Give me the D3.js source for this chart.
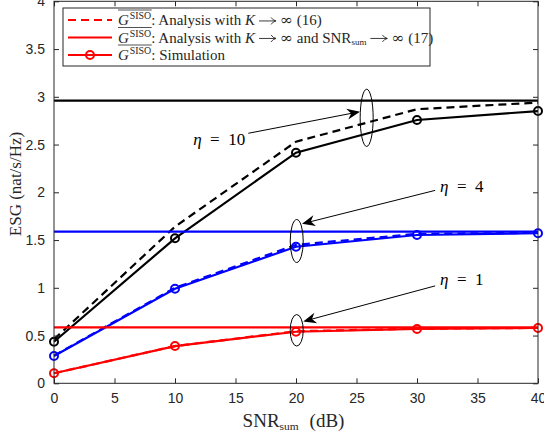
<!DOCTYPE html>
<html><head><meta charset="utf-8">
<script src="https://cdn.jsdelivr.net/npm/d3@7"></script>
<style>
html,body{margin:0;padding:0;background:#fff;overflow:hidden}
svg{display:block}
</style></head>
<body>
<script>
// ---- data ----
const snr = [0, 10, 20, 30, 40];
const xTicks = [0, 5, 10, 15, 20, 25, 30, 35, 40];
const yTicks = [0, 0.5, 1, 1.5, 2, 2.5, 3, 3.5, 4];
const yTickLabels = ["0", "0.5", "1", "1.5", "2", "2.5", "3", "3.5", "4"];
const etas = ["10", "4", "1"];
const colors = ["#000000", "#0000ff", "#ff0000"];
// analysis K->inf (dashed)
const dash10 = [0.46, 1.64, 2.53, 2.87, 2.94];
const dash4  = [0.29, 1.00, 1.45, 1.565, 1.575];
const dash1  = [0.105, 0.39, 0.545, 0.572, 0.58];
// analysis K->inf and SNR->inf (horizontal)
const lim10 = 2.96, lim4 = 1.588, lim1 = 0.586;
// simulation
const sim10 = [0.435, 1.518, 2.415, 2.757, 2.851];
const sim4  = [0.286, 0.99, 1.43, 1.553, 1.571];
const sim1  = [0.105, 0.39, 0.54, 0.569, 0.579];
// annotations (data coords)
const annEllipse = [[25.84, 2.78, 0.30], [20.06, 1.49, 0.225], [20.06, 0.555, 0.165]];
const annArrowFrom = [[16.06, 2.618], [31.5, 2.02], [31.5, 1.02]];
const annArrowTo = [[25.29, 2.844], [20.5, 1.67], [20.6, 0.648]];
const annText = [[15.8, 2.495, "end"], [31.9, 2.0, "start"], [31.9, 1.03, "start"]];

const W = 544, H = 435;
const x = d3.scaleLinear().domain([0, 40]).range([54, 538]);
const y = d3.scaleLinear().domain([0, 4]).range([383.3, 1.3]);
const axisCol = "#262626";
const sans = "'Liberation Sans', Arial, sans-serif";
const serif = "'Liberation Serif', 'Times New Roman', serif";
const symf = "'DejaVu Serif', serif";

const svg = d3.select("body").append("svg").attr("width", W).attr("height", H);

const series = [
  {c: colors[0], dash: dash10, lim: lim10, sim: sim10},
  {c: colors[1], dash: dash4, lim: lim4, sim: sim4},
  {c: colors[2], dash: dash1, lim: lim1, sim: sim1}
];
const line = d3.line().x((d, i) => x(snr[i])).y(d => y(d));
const g = svg.append("g");
series.forEach(s => {
  g.append("line").attr("x1", x(0)).attr("x2", x(40)).attr("y1", y(s.lim)).attr("y2", y(s.lim))
    .attr("stroke", s.c).attr("stroke-width", 2.2);
  g.append("path").attr("d", line(s.dash)).attr("fill", "none").attr("stroke", s.c)
    .attr("stroke-width", 2.2).attr("stroke-dasharray", "8,5");
  g.append("path").attr("d", line(s.sim)).attr("fill", "none").attr("stroke", s.c).attr("stroke-width", 2.2);
  g.selectAll(null).data(s.sim).enter().append("circle")
    .attr("cx", (d, i) => x(snr[i])).attr("cy", d => y(d)).attr("r", 4)
    .attr("fill", "none").attr("stroke", s.c).attr("stroke-width", 2);
});

// axes box
const ax = svg.append("g");
const axB = d3.axisBottom(x).tickValues(xTicks).tickSize(-5).tickPadding(10);
const axL = d3.axisLeft(y).tickValues(yTicks).tickFormat((d, i) => yTickLabels[i]).tickSize(-5).tickPadding(9);
const axT = d3.axisTop(x).tickValues(xTicks).tickSize(-5).tickFormat("");
const axR = d3.axisRight(y).tickValues(yTicks).tickSize(-5).tickFormat("");
function style(sel) {
  sel.select(".domain").remove();
  sel.selectAll(".tick line").attr("stroke", axisCol).attr("stroke-width", 1);
  sel.selectAll(".tick text").attr("fill", axisCol).attr("font-family", sans).attr("font-size", 14);
}
ax.append("g").attr("transform", `translate(0,${y(0)})`).call(axB).call(style);
ax.append("g").attr("transform", `translate(${x(0)},0)`).call(axL).call(style);
ax.append("g").attr("transform", `translate(0,${y(4)})`).call(axT).call(style);
ax.append("g").attr("transform", `translate(${x(40)},0)`).call(axR).call(style);
ax.append("rect").attr("x", x(0)).attr("y", y(4)).attr("width", x(40) - x(0)).attr("height", y(0) - y(4))
  .attr("fill", "none").attr("stroke", axisCol).attr("stroke-width", 1);

// flow layout of math-like text segments
function flow(parent, x0, base, segs, size, col) {
  let cx = x0;
  const out = [];
  segs.forEach(s => {
    if (s.gap) { cx += s.gap; return; }
    if (s.arrow) {
      const ay = base - size * 0.27;
      parent.append("line").attr("x1", cx).attr("x2", cx + s.arrow - 0.5).attr("y1", ay).attr("y2", ay)
        .attr("stroke", col).attr("stroke-width", 0.9);
      parent.append("path")
        .attr("d", `M${cx + s.arrow - 5},${ay - 3.5} Q${cx + s.arrow - 3},${ay - 0.5} ${cx + s.arrow},${ay} Q${cx + s.arrow - 3},${ay + 0.5} ${cx + s.arrow - 5},${ay + 3.5}`)
        .attr("fill", "none").attr("stroke", col).attr("stroke-width", 0.9);
      out.push([cx, cx + s.arrow]);
      cx += s.arrow;
      return;
    }
    const fs = size * (s.scale || 1);
    const t = parent.append("text").attr("x", cx).attr("y", base + (s.dy || 0))
      .attr("font-family", s.font || serif).attr("font-size", fs).attr("fill", col)
      .attr("xml:space", "preserve").text(s.t);
    if (s.it) t.attr("font-style", "italic");
    if (s.w) t.attr("textLength", s.w).attr("lengthAdjust", "spacingAndGlyphs");
    const w = s.w || t.node().getComputedTextLength();
    out.push([cx, cx + w]);
    cx += w;
  });
  return out;
}

// axis labels
(function() {
  const segs = [{t: "SNR"}, {t: "sum", scale: 0.6, dy: 3}, {gap: 11}, {t: "(dB)"}];
  const tmp = svg.append("g");
  const r = flow(tmp, 0, 426.5, segs, 19, axisCol);
  const wTot = r[r.length - 1][1];
  tmp.attr("transform", `translate(${293.5 - wTot / 2},0)`);
})();
svg.append("text").attr("transform", "translate(21,184) rotate(-90)").attr("text-anchor", "middle")
  .attr("font-family", serif).attr("font-size", 17).attr("fill", axisCol).text("ESG (nat/s/Hz)");

// annotations
const an = svg.append("g");
annEllipse.forEach(e => {
  an.append("ellipse").attr("cx", x(e[0])).attr("cy", y(e[1])).attr("rx", 6.5)
    .attr("ry", y(0) - y(e[2])).attr("fill", "none").attr("stroke", "#000").attr("stroke-width", 1);
});
annArrowFrom.forEach((f, i) => {
  const t = annArrowTo[i];
  const x1 = x(f[0]), y1 = y(f[1]), x2 = x(t[0]), y2 = y(t[1]);
  const ang = Math.atan2(y2 - y1, x2 - x1);
  const L = 13, Wd = 5.5, back = 9;
  const ux = Math.cos(ang), uy = Math.sin(ang), px = -uy, py = ux;
  an.append("line").attr("x1", x1).attr("y1", y1).attr("x2", x2 - ux * 2).attr("y2", y2 - uy * 2)
    .attr("stroke", "#000").attr("stroke-width", 1);
  const p = [
    [x2, y2],
    [x2 - ux * L + px * Wd, y2 - uy * L + py * Wd],
    [x2 - ux * back, y2 - uy * back],
    [x2 - ux * L - px * Wd, y2 - uy * L - py * Wd]
  ];
  an.append("path").attr("d", "M" + p.map(q => q.join(",")).join("L") + "Z").attr("fill", "#000");
  const tt = annText[i];
  const tx = an.append("text").attr("x", x(tt[0])).attr("y", y(tt[1])).attr("text-anchor", tt[2])
    .attr("font-family", serif).attr("font-size", 17).attr("fill", "#000").attr("xml:space", "preserve");
  tx.append("tspan").attr("font-style", "italic").text("η");
  tx.append("tspan").text("  =  " + etas[i]);
});

// legend
const lg = svg.append("g");
lg.append("rect").attr("x", 63).attr("y", 8).attr("width", 367).attr("height", 58)
  .attr("fill", "#fff").attr("stroke", axisCol).attr("stroke-width", 1);
const rows = [20, 37.5, 55];
const G = [{t: "G", it: true}, {gap: 1}, {t: "SISO", scale: 0.66, dy: -6}];
const ARR = [{gap: 4}, {arrow: 17}, {gap: 4}];
const INF = [{t: "∞", font: symf, w: 13}];
const legendSegs = [
  [...G, {t: ": Analysis with "}, {t: "K", it: true}, ...ARR, ...INF, {t: " (16)"}],
  [...G, {t: ": Analysis with "}, {t: "K", it: true}, ...ARR, ...INF, {t: " and SNR"},
   {t: "sum", scale: 0.6, dy: 2.5}, ...ARR, ...INF, {t: " (17)"}],
  [...G, {t: ": Simulation"}]
];
rows.forEach((ry, i) => {
  const l = lg.append("line").attr("x1", 68).attr("x2", 112).attr("y1", ry).attr("y2", ry)
    .attr("stroke", colors[2]).attr("stroke-width", 2.2);
  if (i === 0) l.attr("stroke-dasharray", "8,5");
  if (i === 2) lg.append("circle").attr("cx", 90).attr("cy", ry).attr("r", 4).attr("fill", "none")
    .attr("stroke", colors[2]).attr("stroke-width", 2);
  const r = flow(lg, 118, ry + 5, legendSegs[i], 15, axisCol);
  lg.append("line").attr("x1", r[0][0]).attr("x2", r[1][1] + 0.5).attr("y1", ry - 10).attr("y2", ry - 10)
    .attr("stroke", axisCol).attr("stroke-width", 0.8);
});
</script>
</body></html>
